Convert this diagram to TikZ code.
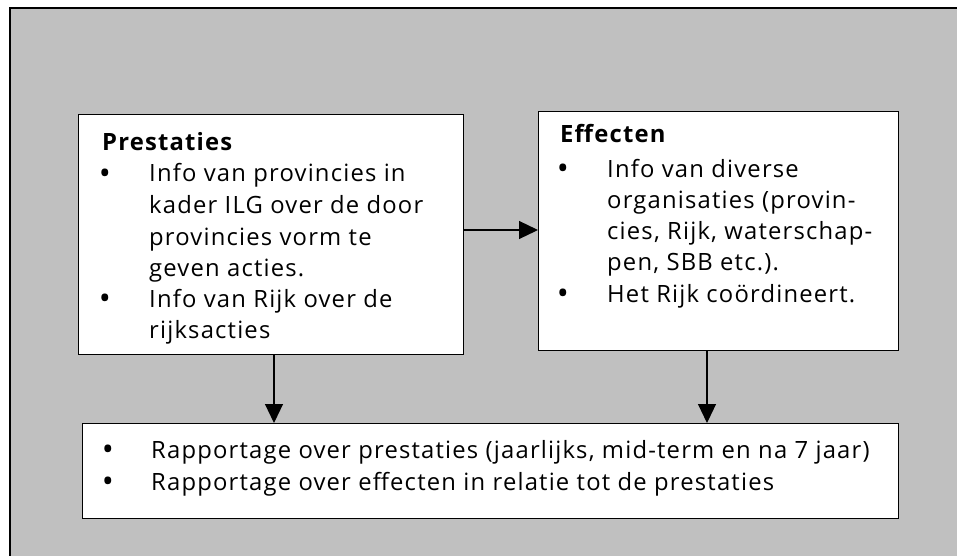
\documentclass[tikz,border=0pt]{standalone}
\usepackage{fontspec}
\setmainfont{Open Sans}[LetterSpace=5]
\usetikzlibrary{arrows.meta}
\definecolor{bggrey}{HTML}{C0C0C0}
\tikzset{
  x=1pt, y=-1pt,
  box/.style={draw=black, line width=1.4pt, fill=white, anchor=north west, inner sep=0pt},
  txt/.style={anchor=base west, inner sep=0pt, font=\fontsize{23.8}{26}\selectfont},
  head/.style={txt, font=\fontsize{23.8}{26}\selectfont\bfseries},
  dot/.style={anchor=base, inner sep=0pt, font=\fontsize{32}{32}\selectfont},
  conn/.style={line width=1.2pt, -{Triangle[length=19pt,width=18pt]}}
}
\begin{document}
\begin{tikzpicture}
\useasboundingbox (0,0) rectangle (957,556);
\begin{scope}
\clip (0,0) rectangle (957,556);
\draw[fill=bggrey, line width=1.4pt] (10,8) rectangle (980,580);
\end{scope}
% boxes
\node[box, minimum width=385pt, minimum height=240pt] (pbox) at (78,114) {};
\node[box, minimum width=360pt, minimum height=239pt] (ebox) at (538,111) {};
\node[box, minimum width=816pt, minimum height=95pt] (rbox) at (82,423) {};
% Prestaties text
\node[head] (p0) at (102,150) {Prestaties};
\node[dot] (pb1) at (105,184) {•};
\node[txt] (p1) at (149,182) {Info van provincies in};
\node[txt] (p2) at (149,213.5) {kader ILG over de door};
\node[txt] (p3) at (149,245) {provincies vorm te};
\node[txt] (p4) at (149,276) {geven acties.};
\node[dot] (pb2) at (105,309) {•};
\node[txt] (p5) at (149,307) {Info van Rijk over de};
\node[txt] (p6) at (149,338) {rijksacties};
% Effecten text
\node[head] (e0) at (560,143) {Effecten};
\node[dot] (eb1) at (563,179) {•};
\node[txt] (e1) at (607,177) {Info van diverse};
\node[txt] (e2) at (607,208) {organisaties (provin-};
\node[txt] (e3) at (607,239) {cies, Rijk, waterschap-};
\node[txt] (e4) at (607,270) {pen, SBB etc.).};
\node[dot] (eb2) at (563,304) {•};
\node[txt] (e5) at (607,302) {Het Rijk coördineert.};
% Rapportage text
\node[dot] (rb1) at (108,460) {•};
\node[txt] (r1) at (151,458) {Rapportage over prestaties (jaarlijks, mid-term en na 7 jaar)};
\node[dot] (rb2) at (108,492) {•};
\node[txt] (r2) at (151,490) {Rapportage over effecten in relatie tot de prestaties};
% connectors
\coordinate (hA) at (463,230);
\draw[conn] (hA) -- (hA -| ebox.west);
\coordinate (vA) at (274,354);
\draw[conn] (vA) -- (vA |- rbox.north);
\coordinate (vB) at (707,350);
\draw[conn] (vB) -- (vB |- rbox.north);
\end{tikzpicture}
\end{document}
